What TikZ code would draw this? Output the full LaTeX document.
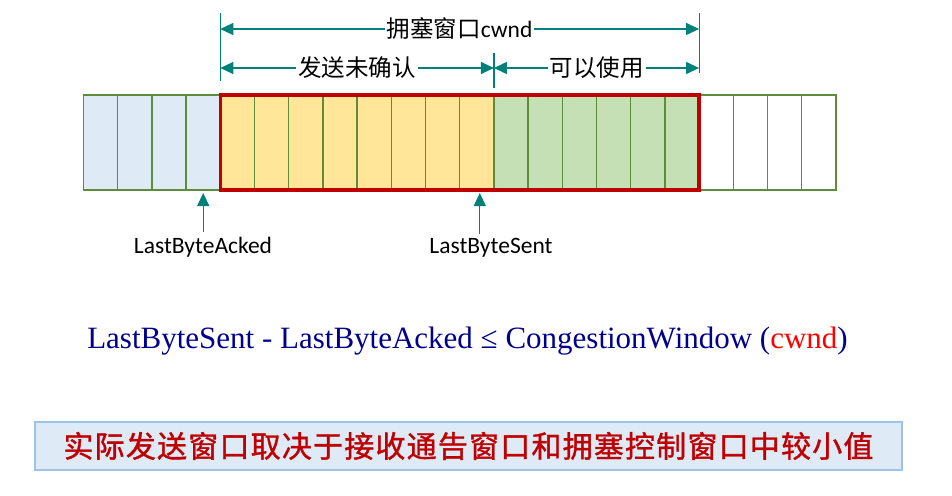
\documentclass[tikz,border=0pt]{standalone}
\usepackage{fontspec}
\setmainfont{Carlito}
\newfontfamily\cjk{Noto Sans CJK SC}
\newfontfamily\cjkbold{Noto Sans CJK SC}[FakeBold=1.2]
\newfontfamily\serif{Liberation Serif}
\usetikzlibrary{arrows.meta,calc}
\definecolor{tealc}{RGB}{0,128,122}
\definecolor{cellg}{RGB}{94,140,58}
\definecolor{ackblue}{RGB}{222,235,247}
\definecolor{unack}{RGB}{255,230,153}
\definecolor{usable}{RGB}{197,224,180}
\definecolor{winred}{RGB}{192,0,0}
\definecolor{navy}{RGB}{0,0,140}
\definecolor{boxfill}{RGB}{222,234,246}
\definecolor{boxline}{RGB}{157,195,230}
\begin{document}
\begin{tikzpicture}[x=1pt,y=-1pt,
  cell/.style={draw=cellg,line width=1.3pt,minimum width=34.2pt,minimum height=95pt,inner sep=0pt,outer sep=0pt},
  tick/.style={tealc,line width=1.2pt},
  dim/.style={tealc,line width=1.2pt,arrows={Triangle[length=13pt,width=12pt]-Triangle[length=13pt,width=12pt]}},
  dimlbl/.style={fill=white,text=black,inner sep=2pt,font=\fontsize{23.5}{26}\selectfont},
  ptr/.style={tealc,line width=1.2pt,-{Triangle[length=13pt,width=12pt]}},
  ptrlbl/.style={inner sep=4pt,text=black,font=\fontsize{23.5}{26}\selectfont}]
\useasboundingbox (0,0) rectangle (952,495);
\foreach \i in {1,...,4} \node[cell,fill=ackblue] (c\i) at ({83.5+(\i-0.5)*34.2},142.5) {};
\foreach \i in {5,...,12} \node[cell,fill=unack] (c\i) at ({83.5+(\i-0.5)*34.2},142.5) {};
\foreach \i in {13,...,18} \node[cell,fill=usable] (c\i) at ({83.5+(\i-0.5)*34.2},142.5) {};
\foreach \i in {19,...,22} \node[cell,fill=white] (c\i) at ({83.5+(\i-0.5)*34.2},142.5) {};
\draw[winred,line width=3.5pt] (c5.north west) rectangle (c18.south east);
% ticks
\draw[tick] (c5.north west |- 0,13) -- (c5.north west |- 0,81);
\draw[tick] (c18.north east |- 0,13) -- (c18.north east |- 0,73);
\draw[tick] (c12.north east |- 0,53) -- (c12.north east |- 0,88);
% dimension lines
\draw[dim] (c5.north west |- 0,29) -- node[dimlbl] (cwndlbl) {{\cjk 拥塞窗口}cwnd} (c18.north east |- 0,29);
\draw[dim] (c5.north west |- 0,68) -- node[dimlbl] (unacklbl) {\cjk 发送未确认} (c12.north east |- 0,68);
\draw[dim] (c13.north west |- 0,68) -- node[dimlbl] (usablelbl) {\cjk 可以使用} (c18.north east |- 0,68);
% pointers
\node[ptrlbl,anchor=base] (acklbl) at (203,253) {LastByteAcked};
\node[ptrlbl,anchor=base] (sentlbl) at (491,253) {LastByteSent};
\coordinate (ackpt) at ([yshift=-3pt]c4.south);
\coordinate (sentpt) at ([xshift=3pt,yshift=-3pt]c12.south);
\draw[ptr] (acklbl.north -| ackpt) -- (ackpt);
\draw[ptr] (sentlbl.north -| sentpt) -- (sentpt);
% formula
\node[anchor=base,text=navy,inner sep=0pt,font=\serif\fontsize{31}{34}\selectfont] (formula) at (467.5,348) {LastByteSent - LastByteAcked ≤ CongestionWindow (\textcolor{red}{cwnd})};
% note
\node[draw=boxline,fill=boxfill,line width=1.2pt,minimum width=867pt,minimum height=48pt,text=winred,font=\cjkbold\fontsize{30}{34}\selectfont\addfontfeature{LetterSpace=4}] (note) at (468.5,446) {实际发送窗口取决于接收通告窗口和拥塞控制窗口中较小值};
\end{tikzpicture}
\end{document}
